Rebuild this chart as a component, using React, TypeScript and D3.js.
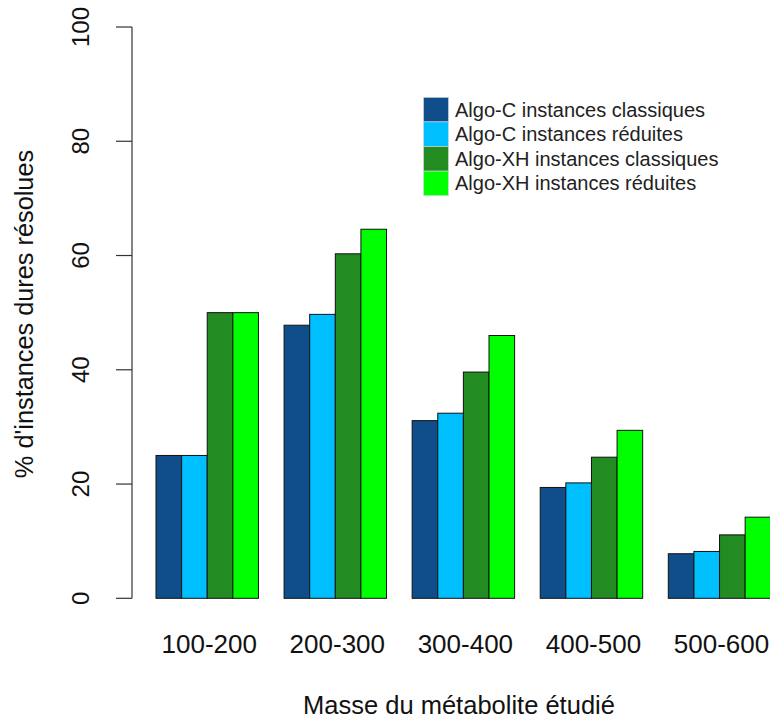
import React from "react";
import * as d3 from "d3";

const categories = ["100-200", "200-300", "300-400", "400-500", "500-600"];
const seriesNames = [
  "Algo-C instances classiques",
  "Algo-C instances réduites",
  "Algo-XH instances classiques",
  "Algo-XH instances réduites",
];
const seriesColors = ["#104E8B", "#00BFFF", "#228B22", "#00FF00"];
const algoCClassiques = [25, 47.8, 31.1, 19.4, 7.8];
const algoCReduites = [25, 49.7, 32.4, 20.2, 8.2];
const algoXHClassiques = [50, 60.3, 39.6, 24.7, 11.1];
const algoXHReduites = [50, 64.6, 46.0, 29.4, 14.2];
const yTicks = [0, 20, 40, 60, 80, 100];
const xTitle = "Masse du métabolite étudié";
const yTitle = "% d'instances dures résolues";

const W = 770;
const H = 718;
const FONT = "'Liberation Sans', Arial, Helvetica, sans-serif";

export default function App() {
  const series = [algoCClassiques, algoCReduites, algoXHClassiques, algoXHReduites];
  const unit = 25.615;
  const x0 = d3
    .scaleBand<string>()
    .domain(categories)
    .range([156, 156 + 24 * unit])
    .paddingInner(0.2)
    .paddingOuter(0);
  const x1 = d3
    .scaleBand<number>()
    .domain(d3.range(seriesNames.length))
    .range([0, x0.bandwidth()])
    .padding(0);
  const y = d3.scaleLinear().domain([0, 100]).range([598.3, 27]);

  const legendX = 423.5;
  const legendY = 97.3;
  const rowH = 24.6;

  return (
    <svg
      width={W}
      height={H}
      style={{ position: "absolute", left: 0, top: 0, background: "#fff" }}
      fontFamily={FONT}
    >
      <rect x={0} y={0} width={W} height={H} fill="#fff" />
      {/* bars */}
      {categories.map((c, i) => (
        <g key={c} transform={`translate(${x0(c)},0)`}>
          {series.map((s, j) => (
            <rect
              key={j}
              x={x1(j)}
              y={y(s[i])}
              width={x1.bandwidth()}
              height={y(0) - y(s[i])}
              fill={seriesColors[j]}
              stroke="#111"
              strokeWidth={1}
            />
          ))}
        </g>
      ))}
      {/* y axis */}
      <line x1={132} x2={132} y1={y(0)} y2={y(100)} stroke="#333" strokeWidth={1.2} />
      {yTicks.map((t) => (
        <g key={t}>
          <line x1={116} x2={132} y1={y(t)} y2={y(t)} stroke="#333" strokeWidth={1.2} />
          <text
            transform={`translate(89,${y(t)}) rotate(-90)`}
            textAnchor="middle"
            fontSize={24}
            fill="#111"
          >
            {t}
          </text>
        </g>
      ))}
      {/* x tick labels */}
      {categories.map((c) => (
        <text
          key={c}
          x={(x0(c) as number) + x0.bandwidth() / 2 + 2}
          y={653}
          textAnchor="middle"
          fontSize={26}
          fill="#111"
        >
          {c}
        </text>
      ))}
      {/* axis titles */}
      <text x={459} y={714} textAnchor="middle" fontSize={25.5} fill="#111">
        {xTitle}
      </text>
      <text
        transform={`translate(33,314) rotate(-90)`}
        textAnchor="middle"
        fontSize={25.3}
        fill="#111"
      >
        {yTitle}
      </text>
      {/* legend */}
      {seriesNames.map((n, j) => (
        <g key={n}>
          <rect
            x={legendX}
            y={legendY + j * rowH}
            width={25}
            height={rowH}
            fill={seriesColors[j]}
            stroke="#ddd"
            strokeWidth={0.6}
          />
          <text
            x={455}
            y={legendY + j * rowH + rowH / 2}
            dy="0.35em"
            fontSize={20}
            fill="#222"
          >
            {n}
          </text>
        </g>
      ))}
    </svg>
  );
}
